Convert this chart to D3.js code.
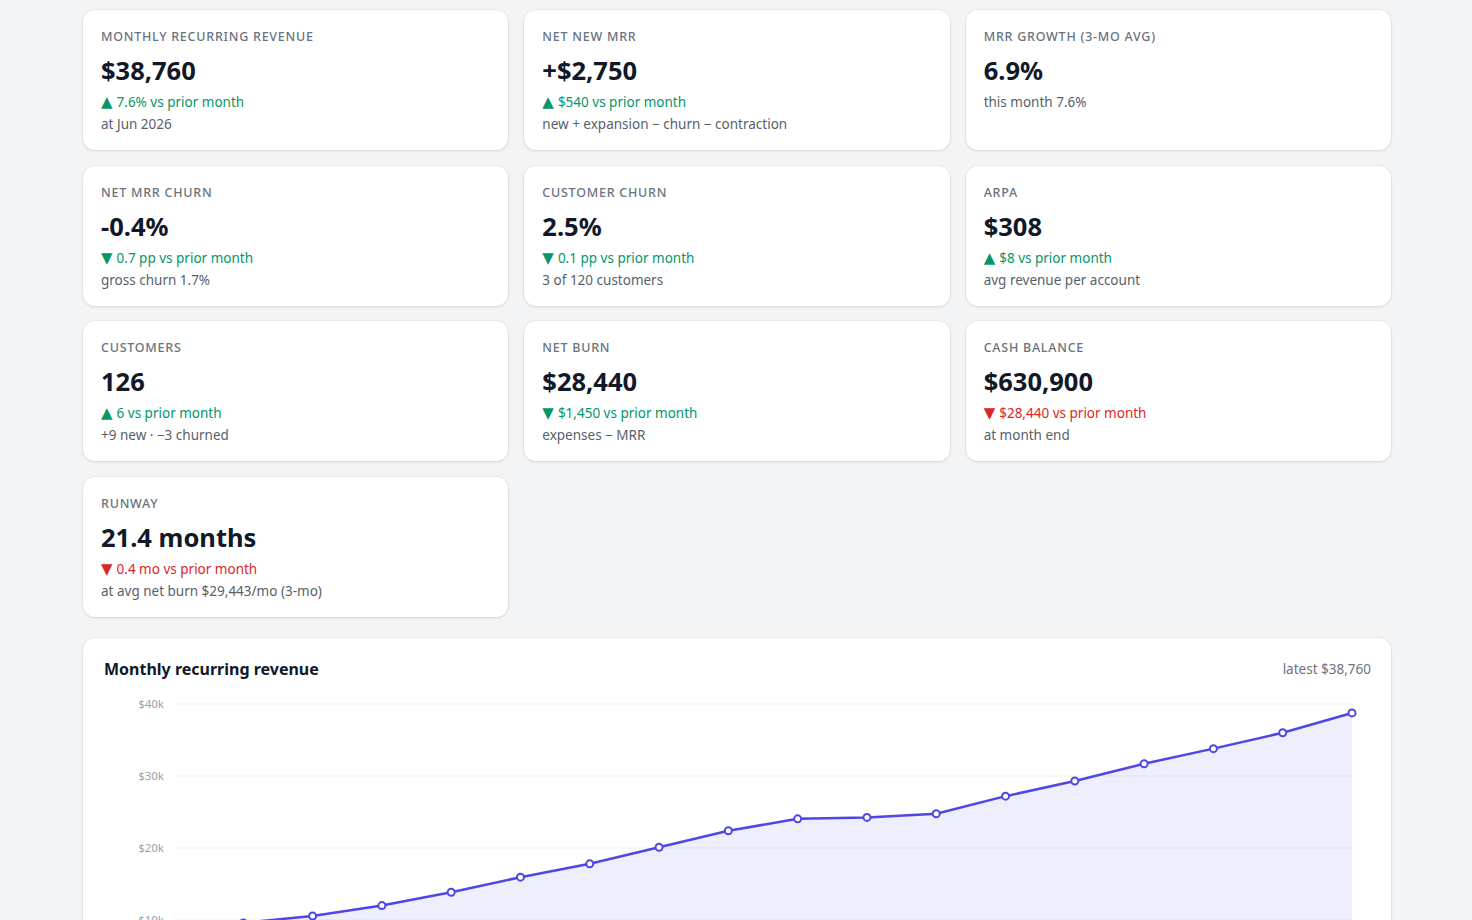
<!DOCTYPE html>
<html lang="en">
<head>
<meta charset="UTF-8">
<title>SaaS metrics</title>
<script src="https://cdn.jsdelivr.net/npm/d3@7"></script>
<style>
    body { margin: 0; background: #f3f4f6; font-family: "Segoe UI", "Noto Sans", sans-serif; color: #111827; }
    #wrap { width: 1308px; margin: 0 0 0 83px; padding-top: 10px; }
    #cards { display: grid; grid-template-columns: repeat(3, 1fr); column-gap: 16px; row-gap: 15.5px; }
    .card { background: #fff; border-radius: 12px; box-shadow: 0 1px 3px rgba(0,0,0,0.10), 0 0 0 1px rgba(0,0,0,0.03); height: 140px; box-sizing: border-box; padding: 19px 18px 0 18px; }
    .lbl { font-size: 12.5px; line-height: 16px; letter-spacing: 0.06em; color: #6b7280; text-transform: uppercase; font-weight: 500; }
    .val { font-size: 25.5px; line-height: 34px; font-weight: 700; margin-top: 8px; color: #111827; }
    .delta { font-size: 13.5px; line-height: 20px; margin-top: 5px; }
    .tri { font-family: "DejaVu Sans", sans-serif; font-size: 15px; line-height: 18px; margin-right: 4px; }
    .up { color: #059669; }
    .down-good { color: #059669; }
    .down-bad { color: #dc2626; }
    .note { font-size: 13.5px; line-height: 20px; margin-top: 2px; color: #585f6b; }
    #chartcard { background: #fff; border-radius: 12px; box-shadow: 0 1px 3px rgba(0,0,0,0.10), 0 0 0 1px rgba(0,0,0,0.03); margin-top: 21px; padding: 20px 20px 20px 20px; }
    #chead { display: flex; justify-content: space-between; align-items: center; height: 22px; }
    #ctitle { font-size: 16px; font-weight: 700; color: #111827; padding-left: 1px; }
    #clatest { font-size: 13.5px; color: #6b7280; }
    svg { display: block; margin-top: 14px; }
</style>
</head>
<body>
<div id="wrap">
    <div id="cards"></div>
    <div id="chartcard">
        <div id="chead"><span id="ctitle">Monthly recurring revenue</span><span id="clatest"></span></div>
        <div id="chart"></div>
    </div>
</div>
<script>
// kpi tiles
var kpiLabels = ['Monthly recurring revenue', 'Net new MRR', 'MRR growth (3-mo avg)',
                 'Net MRR churn', 'Customer churn', 'ARPA',
                 'Customers', 'Net burn', 'Cash balance',
                 'Runway'];
var kpiValues = ['$38,760', '+$2,750', '6.9%',
                 '-0.4%', '2.5%', '$308',
                 '126', '$28,440', '$630,900',
                 '21.4 months'];
var kpiDeltas = ['7.6% vs prior month', '$540 vs prior month', null,
                 '0.7 pp vs prior month', '0.1 pp vs prior month', '$8 vs prior month',
                 '6 vs prior month', '$1,450 vs prior month', '$28,440 vs prior month',
                 '0.4 mo vs prior month'];
var kpiTones = ['up', 'up', null,
                'down-good', 'down-good', 'up',
                'up', 'down-good', 'down-bad',
                'down-bad'];
var kpiNotes = ['at Jun 2026', 'new + expansion \u2212 churn \u2212 contraction', 'this month 7.6%',
                'gross churn 1.7%', '3 of 120 customers', 'avg revenue per account',
                '+9 new \u00b7 \u22123 churned', 'expenses \u2212 MRR', 'at month end',
                'at avg net burn $29,443/mo (3-mo)'];

// mrr series (first two months sit below the fold, estimated)
var months = ['Jan 2025', 'Feb 2025', 'Mar 2025', 'Apr 2025', 'May 2025', 'Jun 2025',
              'Jul 2025', 'Aug 2025', 'Sep 2025', 'Oct 2025', 'Nov 2025', 'Dec 2025',
              'Jan 2026', 'Feb 2026', 'Mar 2026', 'Apr 2026', 'May 2026', 'Jun 2026'];
var mrr = [8700, 9600, 10550, 12000, 13850, 15950,
           17800, 20100, 22400, 24050, 24250, 24750,
           27200, 29300, 31700, 33800, 36010, 38760];
var yTicks = [0, 10000, 20000, 30000, 40000];

var cards = d3.select('#cards').selectAll('div.card').data(d3.range(kpiLabels.length)).enter()
    .append('div').attr('class', 'card');
cards.append('div').attr('class', 'lbl').text(function(i){ return kpiLabels[i]; });
cards.append('div').attr('class', 'val').text(function(i){ return kpiValues[i]; });
var deltas = cards.filter(function(i){ return kpiDeltas[i] != null; }).append('div')
    .attr('class', function(i){ return 'delta ' + kpiTones[i]; });
deltas.append('span').attr('class', 'tri').text(function(i){ return kpiTones[i] == 'up' ? '\u25b2' : '\u25bc'; });
deltas.append('span').text(function(i){ return kpiDeltas[i]; });
cards.append('div').attr('class', 'note')
    .style('margin-top', function(i){ return kpiDeltas[i] == null ? '5px' : null; })
    .text(function(i){ return kpiNotes[i]; });

d3.select('#clatest').text('latest ' + d3.format('$,')(mrr[mrr.length - 1]));

// chart
var W = 1268, H = 330;
var m = {top: 10, right: 19, bottom: 30, left: 71};
var svg = d3.select('#chart').append('svg').attr('width', W).attr('height', H);
var g = svg.append('g').attr('transform', 'translate(' + m.left + ',' + m.top + ')');
var w = W - m.left - m.right, h = 288;

var x = d3.scalePoint().domain(months).range([0, w]);
var y = d3.scaleLinear().domain([0, 40000]).range([h, 0]);

g.append('g').selectAll('line').data(yTicks).enter().append('line')
    .attr('x1', 0).attr('x2', w)
    .attr('y1', function(d){ return y(d); }).attr('y2', function(d){ return y(d); })
    .attr('stroke', '#eef0f3').attr('stroke-width', 1);

var yAxis = g.append('g').call(d3.axisLeft(y).tickValues(yTicks).tickSize(0).tickPadding(10)
    .tickFormat(function(d){ return '$' + d / 1000 + 'k'; }));
yAxis.select('.domain').remove();
yAxis.selectAll('text').attr('fill', '#9ca3af').style('font-size', '11.5px').style('font-family', '"Segoe UI", "Noto Sans", sans-serif');

var area = d3.area().x(function(d, i){ return x(months[i]); }).y0(h).y1(function(d){ return y(d); });
var line = d3.line().x(function(d, i){ return x(months[i]); }).y(function(d){ return y(d); });

g.append('path').datum(mrr).attr('d', area).attr('fill', '#4f46e5').attr('fill-opacity', 0.09);
g.append('path').datum(mrr).attr('d', line).attr('fill', 'none')
    .attr('stroke', '#4f46e5').attr('stroke-width', 2.5).attr('stroke-linejoin', 'round');
g.selectAll('circle').data(mrr).enter().append('circle')
    .attr('cx', function(d, i){ return x(months[i]); }).attr('cy', function(d){ return y(d); })
    .attr('r', 3.5).attr('fill', '#fff').attr('stroke', '#4f46e5').attr('stroke-width', 2);
</script>
</body>
</html>
